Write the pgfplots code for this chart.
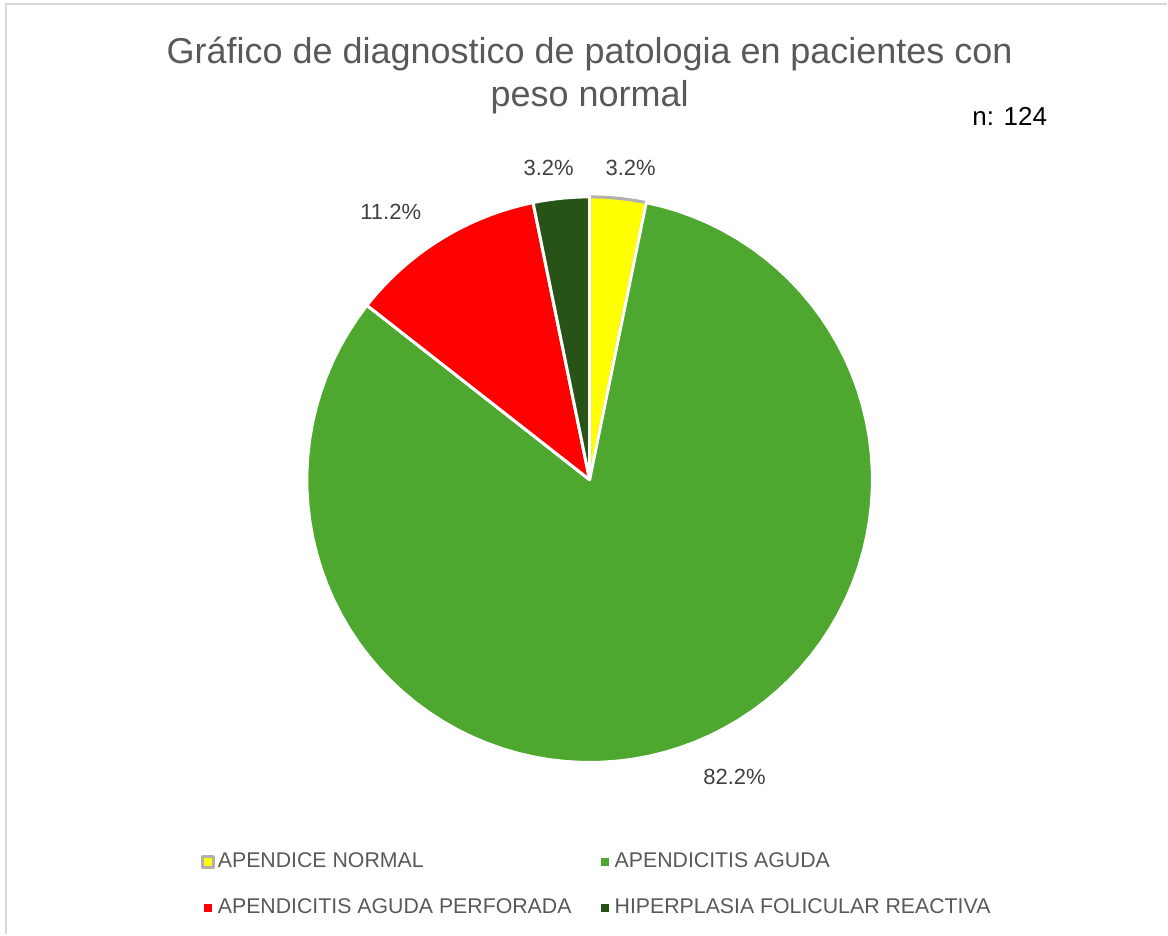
\documentclass[border=0pt]{standalone}
\usepackage{pgfplots}
\usepackage{pgfplotstable}
\pgfplotsset{compat=1.18}
\usepackage{fontspec}
\setmainfont{Liberation Sans}

\definecolor{amarillo}{HTML}{FFFF00}
\definecolor{verde}{HTML}{4EA72E}
\definecolor{rojo}{HTML}{FF0000}
\definecolor{verdeosc}{HTML}{275317}
\definecolor{bordeam}{HTML}{B0B0B0}
\definecolor{titulo}{HTML}{595959}
\definecolor{etiq}{HTML}{404040}
\definecolor{marco}{HTML}{D9D9D9}

% porcentajes por diagnostico (n = 124)
\pgfplotstableread[col sep=comma]{
categoria,valor
APENDICE NORMAL,3.2
APENDICITIS AGUDA,82.2
APENDICITIS AGUDA PERFORADA,11.2
HIPERPLASIA FOLICULAR REACTIVA,3.2
}\datos

\pgfplotstablegetelem{0}{valor}\of\datos\let\vA\pgfplotsretval
\pgfplotstablegetelem{1}{valor}\of\datos\let\vB\pgfplotsretval
\pgfplotstablegetelem{2}{valor}\of\datos\let\vC\pgfplotsretval
\pgfplotstablegetelem{3}{valor}\of\datos\let\vD\pgfplotsretval
\pgfmathsetmacro\tot{\vA+\vB+\vC+\vD}
% angulos acumulados, sentido horario desde arriba
\pgfmathsetmacro\aA{90-360*(\vA/\tot)}
\pgfmathsetmacro\aB{\aA-360*(\vB/\tot)}
\pgfmathsetmacro\aC{\aB-360*(\vC/\tot)}
\def\aD{-270}

% centro y radio de la torta (unidades = pixeles)
\def\cx{590}\def\cy{455}\def\rr{283}

\newcommand\rebanada[4]{%
  \addplot[fill=#3, draw=#4, line width=1.5pt, line join=round,
    domain=#2:#1, samples=90, variable=\t]
    ({\cx+\rr*cos(\t)},{\cy+\rr*sin(\t)}) -- (axis cs:\cx,\cy) -- cycle;}

\begin{document}
\begin{tikzpicture}
  \begin{axis}[
      hide axis,
      scale only axis,
      width=584pt, height=467.5pt,
      xmin=0, xmax=1168, ymin=0, ymax=935,
      clip=false,
      legend columns=2,
      legend cell align=left,
      legend image code/.code={\draw[#1] (0pt,-2.75pt) rectangle (5.5pt,2.75pt);},
      legend style={draw=none, fill=none, at={(axis cs:195,90)}, anchor=north west,
        font=\fontsize{10.65}{12}\selectfont, text=titulo, row sep=10pt,
        nodes={inner xsep=1.3pt},
        /tikz/every even column/.append style={column sep=12pt}},
    ]
    \path (axis cs:0,0) rectangle (axis cs:1168,935);
    \draw[marco, line width=0.75pt] (axis cs:6,0) -- (axis cs:6,931) -- (axis cs:1168,931);

    \rebanada{90}{\aA}{amarillo}{bordeam}
    \addlegendentry{APENDICE NORMAL}
    \rebanada{\aA}{\aB}{verde}{white}
    \addlegendentry{APENDICITIS AGUDA}
    \rebanada{\aB}{\aC}{rojo}{white}
    \addlegendentry{APENDICITIS AGUDA PERFORADA}
    \rebanada{\aC}{\aD}{verdeosc}{white}
    \addlegendentry{HIPERPLASIA FOLICULAR REACTIVA}

    \node[anchor=base, text=titulo, font=\fontsize{18}{22}\selectfont] at (axis cs:590,871)
      {Gráfico de diagnostico de patologia en pacientes con};
    \node[anchor=base, text=titulo, font=\fontsize{18}{22}\selectfont] at (axis cs:590,828)
      {peso normal};
    \node[anchor=base west, font=\fontsize{13}{15}\selectfont] at (axis cs:966,809) {n: 124};

    \node[anchor=base, text=etiq, font=\fontsize{11}{13}\selectfont] at (axis cs:549,759) {3.2\%};
    \node[anchor=base, text=etiq, font=\fontsize{11}{13}\selectfont] at (axis cs:631,759) {3.2\%};
    \node[anchor=base, text=etiq, font=\fontsize{11}{13}\selectfont] at (axis cs:391,715) {11.2\%};
    \node[anchor=base, text=etiq, font=\fontsize{11}{13}\selectfont] at (axis cs:735,150) {82.2\%};
  \end{axis}
\end{tikzpicture}
\end{document}
